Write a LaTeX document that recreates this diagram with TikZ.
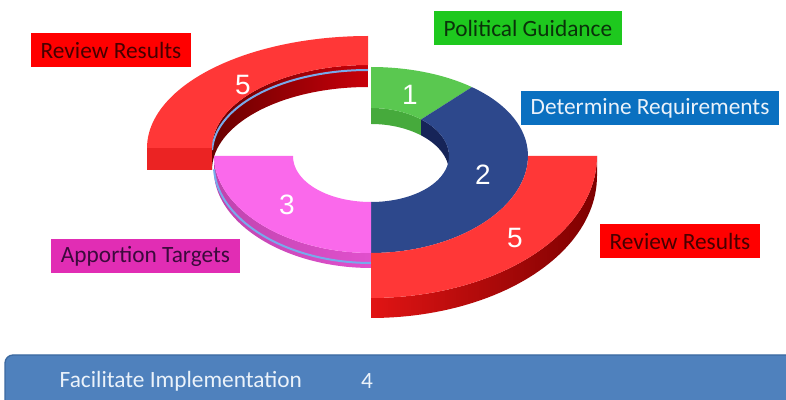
\documentclass[tikz,border=0pt]{standalone}
\usepackage{fontspec}
\setmainfont{Carlito}
\newfontfamily\numfont{Liberation Sans}
\usetikzlibrary{calc}

\definecolor{redtop}{RGB}{255,55,55}
\definecolor{redwallL}{RGB}{225,20,20}
\definecolor{redwallR}{RGB}{125,0,0}
\definecolor{redinL}{RGB}{105,0,0}
\definecolor{redinR}{RGB}{200,0,10}
\definecolor{redend}{RGB}{235,35,35}
\definecolor{greentop}{RGB}{90,200,80}
\definecolor{greenwall}{RGB}{70,170,60}
\definecolor{navytop}{RGB}{45,72,140}
\definecolor{navywall}{RGB}{22,36,88}
\definecolor{pinktop}{RGB}{250,105,235}
\definecolor{pinkwall}{RGB}{225,80,205}
\definecolor{stripe}{RGB}{120,170,235}
\definecolor{tagred}{RGB}{255,0,0}
\definecolor{taggreen}{RGB}{30,200,30}
\definecolor{tagblue}{RGB}{10,112,192}
\definecolor{tagpink}{RGB}{225,45,180}
\definecolor{txtred}{RGB}{70,0,0}
\definecolor{txtgreen}{RGB}{10,50,10}
\definecolor{txtpink}{RGB}{60,10,60}
\definecolor{txtblue}{RGB}{235,242,250}
\definecolor{barblue}{RGB}{79,129,189}
\definecolor{barline}{RGB}{60,105,160}

\tikzset{
	tag/.style = {minimum height=25.5pt, inner xsep=7.5pt, font=\fontsize{17.5}{20}\selectfont},
	num/.style = {text=white, font=\numfont\fontsize{21}{24}\selectfont},
	bartext/.style = {text=txtblue, font=\fontsize{17.5}{20}\selectfont},
}

\begin{document}
\begin{tikzpicture}[x=0.75pt, y=0.75pt]
					\useasboundingbox (0,0) rectangle (786,400);
					\clip (0,0) rectangle (786,400);

					% inner ring
					\def\cx{371}
					\def\cy{244}
					\def\ro{157}
					\def\ri{78}
					\def\th{15}

					% upper red segment (back)
					\begin{scope}[samples=50]
						\shade[left color=redinL, right color=redinR]
							plot[domain=90:180] ({368+156*cos(\x)},{252+83*sin(\x)})
							-- plot[domain=180:90] ({368+156*cos(\x)},{230+83*sin(\x)}) -- cycle;
						\draw[stripe, line width=1.5pt] plot[domain=90:178] ({368+156*cos(\x)},{247+83*sin(\x)});
						\fill[redend] (147,252) rectangle (212,230);
						\fill[redtop]
							plot[domain=90:180] ({368+221*cos(\x)},{252+112*sin(\x)})
							-- plot[domain=180:90] ({368+156*cos(\x)},{252+83*sin(\x)}) -- cycle;
					\end{scope}

					% green and blue segments
					\begin{scope}[samples=50]
						\fill[greenwall]
							plot[domain=50:90] ({\cx+\ri*cos(\x)},{\cy+(47+sin(\x))*sin(\x)})
							-- plot[domain=90:50] ({\cx+\ri*cos(\x)},{\cy-16+(47+sin(\x))*sin(\x)}) -- cycle;
						\fill[greentop]
							plot[domain=50:90] ({\cx+\ro*cos(\x)},{\cy+(93-4*sin(\x))*sin(\x)})
							-- plot[domain=90:50] ({\cx+\ri*cos(\x)},{\cy+(47+sin(\x))*sin(\x)}) -- cycle;
						\fill[navywall]
							plot[domain=0:50] ({\cx+\ri*cos(\x)},{\cy+(47+sin(\x))*sin(\x)})
							-- plot[domain=50:0] ({\cx+\ri*cos(\x)},{\cy-16+(47+sin(\x))*sin(\x)}) -- cycle;
						\fill[navytop]
							plot[domain=-90:50] ({\cx+\ro*cos(\x)},{\cy+(93-4*sin(\x))*sin(\x)})
							-- plot[domain=50:-90] ({\cx+\ri*cos(\x)},{\cy+(47+sin(\x))*sin(\x)}) -- cycle;
					\end{scope}

					% pink segment
					\begin{scope}[samples=50]
						\shade[left color=pinkwall!85!black, right color=pinkwall]
							plot[domain=180:270] ({\cx+\ro*cos(\x)},{\cy+(93-4*sin(\x))*sin(\x)})
							-- plot[domain=270:180] ({\cx+\ro*cos(\x)},{\cy-\th+(93-4*sin(\x))*sin(\x)}) -- cycle;
						\draw[stripe, line width=1.5pt] plot[domain=182:270] ({\cx+\ro*cos(\x)},{\cy-10+(93-4*sin(\x))*sin(\x)});
						\fill[pinktop]
							plot[domain=180:270] ({\cx+\ro*cos(\x)},{\cy+(93-4*sin(\x))*sin(\x)})
							-- plot[domain=270:180] ({\cx+\ri*cos(\x)},{\cy+(47+sin(\x))*sin(\x)}) -- cycle;
					\end{scope}

					% lower red segment (front)
					\begin{scope}[samples=50]
						\shade[left color=redwallL, right color=redwallR]
							plot[domain=-90:0] ({\cx+226*cos(\x)},{\cy+142*sin(\x)})
							-- plot[domain=0:-90] ({\cx+226*cos(\x)},{\cy-20+142*sin(\x)}) -- cycle;
						\fill[redtop]
							plot[domain=-90:0] ({\cx+226*cos(\x)},{\cy+142*sin(\x)})
							-- plot[domain=0:-90] ({\cx+\ro*cos(\x)},{\cy+(93-4*sin(\x))*sin(\x)}) -- cycle;
					\end{scope}

					% step numbers
					\node[num] (five1) at (243,315) {5};
					\node[num] (one) at (410,305) {1};
					\node[num] (two) at (483,225) {2};
					\node[num] (three) at (287,195) {3};
					\node[num] (five2) at (515,162) {5};

					% labels
					\node[tag, fill=tagred, text=txtred] (review1) at (111,350) {Review Results};
					\node[tag, fill=taggreen, text=txtgreen] (guidance) at (528,372) {Political Guidance};
					\node[tag, fill=tagblue, text=txtblue] (requirements) at (650,291.5) {Determine Requirements};
					\node[tag, fill=tagred, text=txtred] (review2) at (680,158.5) {Review Results};
					\node[tag, fill=tagpink, text=txtpink] (targets) at (145.5,143.5) {Apportion Targets};

					% bottom bar
					\draw[rounded corners=6pt, fill=barblue, draw=barline, line width=1pt] (5,45) rectangle (800,-20);
					\node[bartext, anchor=west] (implement) at (55,19) {Facilitate Implementation};
					\node[bartext] (four) at (367,19) {4};
				\end{tikzpicture}
\end{document}
